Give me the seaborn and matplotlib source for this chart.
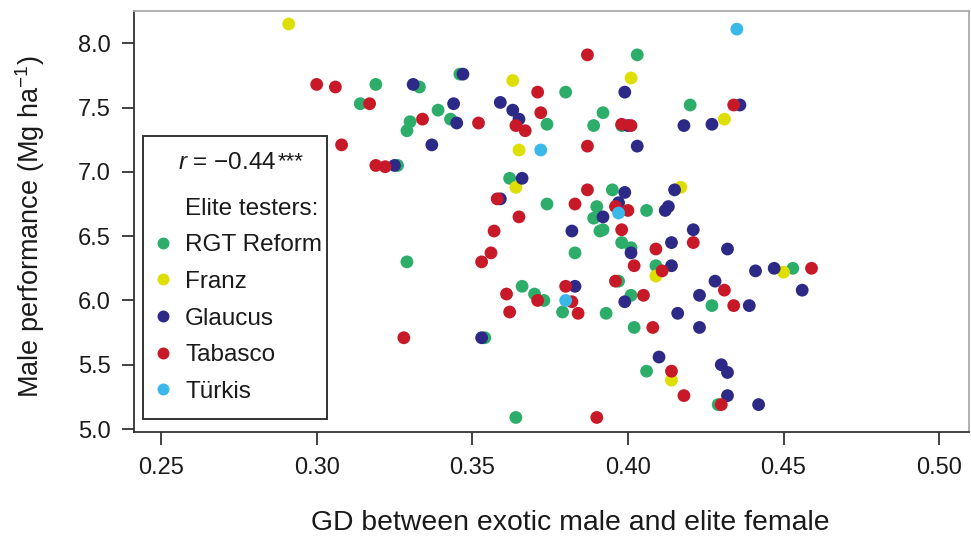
import matplotlib
matplotlib.use("Agg")
import matplotlib.pyplot as plt
from matplotlib.lines import Line2D
from matplotlib.patches import Rectangle
import seaborn as sns
import pandas as pd

# ---- data ----
testers = ["RGT Reform", "Franz", "Glaucus", "Tabasco", "Türkis"]
colors = ["#2dad6a", "#dede00", "#2d2a87", "#c81928", "#3ab8ea"]

green_x = [0.319, 0.333, 0.346, 0.314, 0.339, 0.343, 0.330, 0.329, 0.326, 0.403,
           0.380, 0.420, 0.392, 0.374, 0.389, 0.398, 0.362, 0.395, 0.374, 0.390,
           0.406, 0.389, 0.391, 0.392, 0.398, 0.401, 0.383, 0.329, 0.409, 0.397,
           0.366, 0.370, 0.373, 0.401, 0.427, 0.379, 0.393, 0.402, 0.406, 0.429,
           0.364, 0.354, 0.453]
green_y = [7.68, 7.66, 7.76, 7.53, 7.48, 7.41, 7.39, 7.32, 7.05, 7.91,
           7.62, 7.52, 7.46, 7.37, 7.36, 7.36, 6.95, 6.86, 6.75, 6.73,
           6.70, 6.64, 6.54, 6.55, 6.45, 6.41, 6.37, 6.30, 6.27, 6.15,
           6.11, 6.05, 6.00, 6.04, 5.96, 5.91, 5.90, 5.79, 5.45, 5.19,
           5.09, 5.71, 6.25]

yellow_x = [0.291, 0.363, 0.401, 0.431, 0.365, 0.364, 0.417, 0.409, 0.450, 0.414]
yellow_y = [8.15, 7.71, 7.73, 7.41, 7.17, 6.88, 6.88, 6.19, 6.22, 5.38]

blue_x = [0.331, 0.347, 0.344, 0.359, 0.345, 0.337, 0.325, 0.399, 0.363, 0.365,
          0.400, 0.418, 0.427, 0.436, 0.403, 0.366, 0.399, 0.415, 0.359, 0.397,
          0.413, 0.412, 0.392, 0.382, 0.421, 0.414, 0.401, 0.432, 0.414, 0.428,
          0.441, 0.447, 0.456, 0.383, 0.399, 0.423, 0.439, 0.416, 0.423, 0.353,
          0.410, 0.430, 0.432, 0.432, 0.442]
blue_y = [7.68, 7.76, 7.53, 7.54, 7.38, 7.21, 7.05, 7.62, 7.48, 7.41,
          7.36, 7.36, 7.37, 7.52, 7.20, 6.95, 6.84, 6.86, 6.79, 6.76,
          6.73, 6.70, 6.65, 6.54, 6.55, 6.45, 6.37, 6.40, 6.27, 6.15,
          6.23, 6.25, 6.08, 6.11, 5.99, 6.04, 5.96, 5.90, 5.79, 5.71,
          5.56, 5.50, 5.44, 5.26, 5.19]

red_x = [0.300, 0.306, 0.317, 0.334, 0.352, 0.308, 0.319, 0.322, 0.358, 0.387,
         0.371, 0.372, 0.364, 0.367, 0.398, 0.401, 0.434, 0.387, 0.387, 0.383,
         0.396, 0.400, 0.365, 0.357, 0.398, 0.421, 0.409, 0.356, 0.353, 0.402,
         0.411, 0.396, 0.431, 0.459, 0.380, 0.361, 0.371, 0.382, 0.405, 0.362,
         0.384, 0.434, 0.408, 0.328, 0.414, 0.418, 0.430, 0.390]
red_y = [7.68, 7.66, 7.53, 7.41, 7.38, 7.21, 7.05, 7.04, 6.79, 7.91,
         7.62, 7.46, 7.36, 7.32, 7.37, 7.36, 7.52, 7.20, 6.86, 6.75,
         6.73, 6.70, 6.65, 6.54, 6.55, 6.45, 6.40, 6.37, 6.30, 6.27,
         6.23, 6.15, 6.08, 6.25, 6.11, 6.05, 6.00, 5.99, 6.04, 5.91,
         5.90, 5.96, 5.79, 5.71, 5.45, 5.26, 5.19, 5.09]

cyan_x = [0.435, 0.372, 0.397, 0.380]
cyan_y = [8.11, 7.17, 6.68, 6.00]

x_ticks = [0.25, 0.30, 0.35, 0.40, 0.45, 0.50]
y_ticks = [5.0, 5.5, 6.0, 6.5, 7.0, 7.5, 8.0]
r_label = "\u22120.44"
r_stars = "***"

# ---- build table ----
series = [(green_x, green_y), (yellow_x, yellow_y), (blue_x, blue_y),
          (red_x, red_y), (cyan_x, cyan_y)]
frames = []
for name, (xs, ys) in zip(testers, series):
    frames.append(pd.DataFrame({"gd": xs, "perf": ys, "tester": name}))
df = pd.concat(frames, ignore_index=True)

# ---- style ----
sns.set_style("white")
plt.rcParams["font.family"] = ["Liberation Sans", "DejaVu Sans"]
plt.rcParams["mathtext.fontset"] = "custom"
plt.rcParams["mathtext.rm"] = "Liberation Sans"
plt.rcParams["mathtext.it"] = "Liberation Sans:italic"

fig = plt.figure(figsize=(9.71, 5.40), dpi=100)
ax = fig.add_axes([134 / 971, 1 - 432 / 540, 835 / 971, 421 / 540])

sns.scatterplot(data=df, x="gd", y="perf", hue="tester", hue_order=testers,
                palette=colors, s=85, linewidth=0, alpha=1, legend=False, ax=ax)

ax.set_xlim(0.2413, 0.5096)
ax.set_ylim(4.977, 8.251)
ax.set_xticks(x_ticks)
ax.set_xticklabels([f"{t:.2f}" for t in x_ticks])
ax.set_yticks(y_ticks)
ax.set_yticklabels([f"{t:.1f}" for t in y_ticks])
ax.tick_params(axis="both", which="major", bottom=True, left=True,
               top=False, right=False, direction="out", length=9, width=1.2,
               color="#222222", labelsize=17, labelcolor="#1a1a1a")
ax.tick_params(axis="x", pad=9)
ax.tick_params(axis="y", pad=8)
for side in ["left", "bottom"]:
    ax.spines[side].set_color("#333333")
    ax.spines[side].set_linewidth(1.3)
for side in ["top", "right"]:
    ax.spines[side].set_color("#aaaaaa")
    ax.spines[side].set_linewidth(1.3)
    ax.spines[side].set_visible(True)

ax.set_xlabel("GD between exotic male and elite female", fontsize=20.4,
              color="#1a1a1a", labelpad=22, x=0.522)
ax.set_ylabel(r"Male performance (Mg ha$^{\mathregular{-1}}$)", fontsize=19.5,
              color="#1a1a1a", labelpad=22, y=0.487)

# ---- legend box ----
box = Rectangle((9 / 835, 13 / 421), 184 / 835, 283 / 421, transform=ax.transAxes,
                fill=True, facecolor="white", edgecolor="#333333", linewidth=1.4,
                zorder=5)
ax.add_patch(box)
rt = ax.text(44 / 835, (432 - 163) / 421, r"$r$ = " + r_label,
             transform=ax.transAxes, fontsize=17.5, va="center", ha="left",
             color="#1a1a1a", zorder=6)
ax.annotate(r_stars, xy=(1.0, 0.33), xycoords=rt, xytext=(1, 0),
            textcoords="offset points", fontsize=16, va="baseline", ha="left",
            color="#1a1a1a", zorder=6)
ax.text(51 / 835, (432 - 209) / 421, "Elite testers:", transform=ax.transAxes,
        fontsize=17.5, va="center", ha="left", color="#1a1a1a", zorder=6)

handles = [Line2D([0], [0], marker="o", linestyle="", markersize=8.6,
                  markerfacecolor=c, markeredgewidth=0) for c in colors]
leg = ax.legend(handles, testers, loc="center left",
                bbox_to_anchor=(17 / 835, (432 - 318.5) / 421),
                frameon=False, fontsize=17.5, borderpad=0, borderaxespad=0,
                handlelength=1.0, handletextpad=0.4, labelspacing=0.6)
leg.set_zorder(7)
for t in leg.get_texts():
    t.set_color("#1a1a1a")

fig.savefig("out.png", dpi=100, facecolor="white")
